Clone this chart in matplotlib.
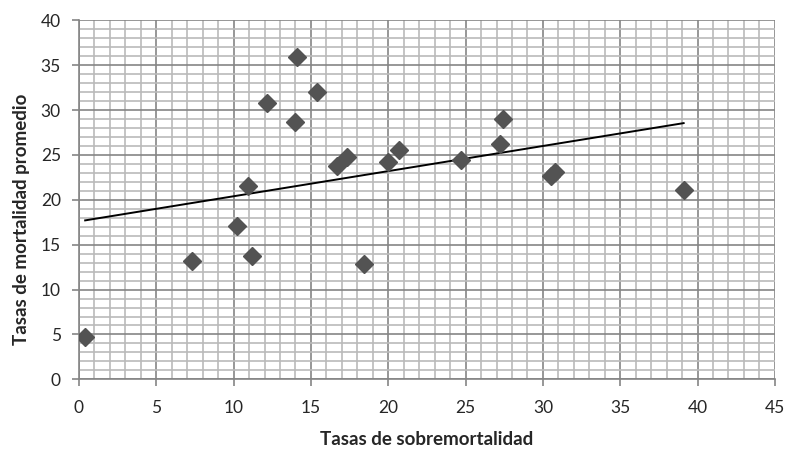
import numpy as np
import matplotlib.pyplot as plt
from matplotlib.ticker import MultipleLocator

# Tasas de sobremortalidad (x) y tasas de mortalidad promedio (y)
sobremortalidad = [0.4, 7.3, 10.2, 10.9, 11.2, 12.15, 14.0, 14.1, 15.4, 16.7,
                   17.35, 18.4, 20.0, 20.7, 24.7, 27.25, 27.45, 30.5, 30.8, 39.1]
mortalidad = [4.7, 13.2, 17.1, 21.5, 13.7, 30.8, 28.7, 35.9, 32.0, 23.8,
              24.8, 12.8, 24.2, 25.5, 24.4, 26.2, 29.0, 22.6, 23.1, 21.1]

plt.rcParams['font.family'] = ['Lato', 'DejaVu Sans']

fig = plt.figure(figsize=(7.89, 4.5), dpi=100)
ax = fig.add_axes([0.1001, 0.157, 0.882, 0.798])

ax.set_xlim(0, 45)
ax.set_ylim(0, 40)
ax.xaxis.set_major_locator(MultipleLocator(5))
ax.yaxis.set_major_locator(MultipleLocator(5))
ax.xaxis.set_minor_locator(MultipleLocator(1))
ax.yaxis.set_minor_locator(MultipleLocator(1))

ax.grid(which='minor', color='#bababa', linewidth=1.2)
ax.grid(which='major', color='#858585', linewidth=1.2)
ax.set_axisbelow(True)

for side in ['top', 'right']:
    ax.spines[side].set_visible(False)
for side in ['left', 'bottom']:
    ax.spines[side].set_color('#858585')
    ax.spines[side].set_linewidth(1.2)

ax.tick_params(which='minor', length=0)
ax.tick_params(axis='x', which='major', length=5, width=1.2, color='#858585',
               labelsize=12.5, labelcolor='#262626', pad=10)
ax.tick_params(axis='y', which='major', length=5, width=1.2, color='#858585',
               labelsize=12.5, labelcolor='#262626', pad=8)

# linea de tendencia (ajuste lineal)
xs = np.array(sobremortalidad)
ys = np.array(mortalidad)
m, b = np.polyfit(xs, ys, 1)
xl = np.array([xs.min(), xs.max()])
ax.plot(xl, m * xl + b, color='black', linewidth=1.4, zorder=3)

ax.plot(xs, ys, linestyle='none', marker='D', markersize=9,
        color='#535353', zorder=4)

fig.text(0.541, 2 / 450, 'Tasas de sobremortalidad', fontsize=13.5,
         fontweight='bold', color='#262626', ha='center', va='bottom')
fig.text(22 / 789, 1 - 219 / 450, 'Tasas de mortalidad promedio', fontsize=13.5,
         fontweight='bold', color='#262626', ha='center', va='center',
         rotation=90)

fig.savefig('out.png', dpi=100)
